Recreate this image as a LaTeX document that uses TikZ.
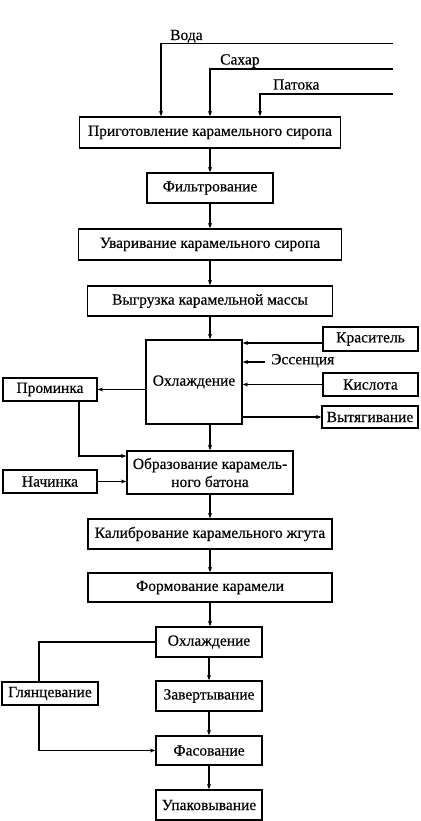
\documentclass[tikz,border=0pt]{standalone}
\usepackage{fontspec}
\setmainfont{Liberation Serif}[FakeBold=0.3]
\usetikzlibrary{arrows.meta}
\begin{document}
\begin{tikzpicture}[x=1pt,y=-1pt,
  txt/.style={font=\fontsize{15.5}{18}\selectfont},
  box/.style={txt,draw,line width=1.3pt,inner sep=0pt,align=center},
  bx/.style n args={2}{box,minimum width=#1pt,minimum height=#2pt},
  lbl/.style={txt,inner sep=0pt},
  ln/.style={line width=1.3pt},
  arr/.style={line width=1.3pt,-{Stealth[length=5.5pt,width=4pt]}}]
\useasboundingbox (0,0) rectangle (420,821);
\fill[white] (0,0) rectangle (420,821);
% main column
\node[bx={261}{31}] (prep) at (210,132.5) {Приготовление карамельного сиропа};
\node[bx={126}{30}] (filt) at (210,188) {Фильтрование};
\node[bx={263}{31}] (uvar) at (210,244.5) {Уваривание карамельного сиропа};
\node[bx={245}{30}] (vygr) at (210,301) {Выгрузка карамельной массы};
\node[bx={96}{84}] (cool1) at (194,382) {Охлаждение};
\node[bx={95}{24}] (kras) at (370.5,339) {Краситель};
\node[lbl,anchor=mid west] (ess) at (271,362) {Эссенция};
\node[bx={95}{23}] (kisl) at (370.5,384.5) {Кислота};
\node[bx={96}{22}] (vyt) at (370,417) {Вытягивание};
\node[bx={94}{23}] (prom) at (50,389.5) {Проминка};
\node[bx={166}{43}] (obr) at (210,472.5) {Образование карамель-\\ного батона};
\node[bx={94}{23}] (nach) at (50,481.5) {Начинка};
\node[bx={244}{30}] (kalib) at (210,534) {Калибрование карамельного жгута};
\node[bx={244}{29}] (form) at (210,587.5) {Формование карамели};
\node[bx={106}{30}] (cool2) at (209,642) {Охлаждение};
\node[bx={96}{23}] (glyan) at (50,693.5) {Глянцевание};
\node[bx={106}{30}] (zavert) at (209,696) {Завертывание};
\node[bx={106}{29}] (fas) at (209,750.5) {Фасование};
\node[bx={106}{30}] (upak) at (209,805) {Упаковывание};
% inputs on top
\node[lbl,anchor=base west] (voda) at (170,40) {Вода};
\node[lbl,anchor=base west] (sahar) at (220,64.5) {Сахар};
\node[lbl,anchor=base west] (patoka) at (273,89.5) {Патока};
\coordinate (vIn) at (393,43.5); \coordinate (vT) at (161,43.5);
\coordinate (sIn) at (393,69);   \coordinate (sT) at (210,69);
\coordinate (pIn) at (393,94);   \coordinate (pT) at (260,94);
\draw[arr] (vIn) -- (vT) -- (vT |- prep.north);
\draw[arr] (sIn) -- (sT) -- (sT |- prep.north);
\draw[arr] (pIn) -- (pT) -- (pT |- prep.north);
% main flow
\draw[arr] (prep.south) -- (filt.north);
\draw[arr] (filt.south) -- (uvar.north);
\draw[arr] (uvar.south) -- (vygr.north);
\draw[arr] (vygr.south) -- (vygr.south |- cool1.north);
\draw[arr] (cool1.south -| obr.north) -- (obr.north);
\draw[arr] (obr.south) -- (kalib.north);
\draw[arr] (kalib.south) -- (form.north);
\draw[arr] (form.south) -- (form.south |- cool2.north);
\draw[arr] (cool2.south) -- (zavert.north);
\draw[arr] (zavert.south) -- (fas.north);
\draw[arr] (fas.south) -- (upak.north);
% side inputs to cooling
\coordinate (krasS) at ([yshift=-4pt]kras.west);
\draw[arr] (krasS) -- (krasS -| cool1.east);
\coordinate (essS) at ([xshift=-6pt]ess.mid west);
\draw[arr] (essS) -- (essS -| cool1.east);
\draw[arr] (kisl.west) -- (kisl.west -| cool1.east);
\draw[arr] (vyt.west -| cool1.east) -- (vyt.west);
\draw[arr] (prom.east -| cool1.west) -- (prom.east);
% prominka to obrazovanie
\coordinate (pd) at ([xshift=29pt]prom.south);
\coordinate (pc) at (79,456);
\draw[arr] (pd) -- (pc) -- (pc -| obr.west);
\draw[arr] (nach.east) -- (nach.east -| obr.west);
% glazing branch
\coordinate (gT) at ([xshift=-11pt]glyan.north);
\coordinate (gB) at ([xshift=-11pt]glyan.south);
\draw[ln] (cool2.west) -| (gT);
\draw[arr] (gB) |- (fas.west);
\end{tikzpicture}
\end{document}
